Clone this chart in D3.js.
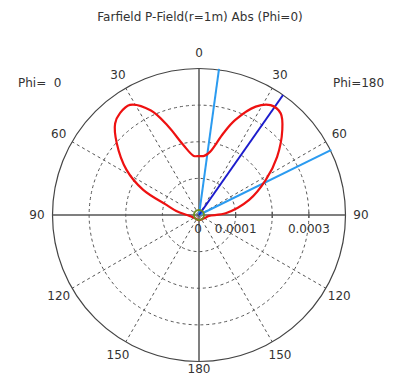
<!DOCTYPE html>
<html>
<head>
<meta charset="utf-8">
<script src="https://cdn.jsdelivr.net/npm/d3@7"></script>
<style>
  body { margin: 0; background: #fff; }
  text { font-family: "DejaVu Sans", sans-serif; fill: #333; }
</style>
</head>
<body>
<div id="chart"></div>
<script>
// theta in degrees measured from the top, values in field units
var thetaPhi0 = [0, 5, 12.6, 19.4, 24.7, 32.1, 37.8, 42.5, 48.9, 58.1, 65.8, 72.8, 80, 90, 100, 130, 180];
var valuePhi0 = [1.61e-4, 1.62e-4, 1.96e-4, 2.59e-4, 3.14e-4, 3.55e-4, 3.52e-4, 3.39e-4, 2.98e-4, 2.33e-4, 1.67e-4, 0.93e-4, 0.63e-4, 0.33e-4, 0.22e-4, 0.14e-4, 0.14e-4];
var thetaPhi180 = [0, 5, 9.9, 16.6, 20.8, 27.6, 33.1, 38.8, 44.4, 53.3, 62.3, 73.3, 86.4, 95, 110, 140, 180];
var valuePhi180 = [1.61e-4, 1.62e-4, 1.75e-4, 2.33e-4, 2.77e-4, 3.34e-4, 3.58e-4, 3.56e-4, 3.25e-4, 2.66e-4, 2.06e-4, 1.43e-4, 0.73e-4, 0.27e-4, 0.2e-4, 0.14e-4, 0.14e-4];
var mainLobe = [35];
var beamEdges = [7.8, 63.8];
var ringValues = [1e-4, 2e-4, 3e-4];
var radialLabels = [[0, "0"], [1e-4, "0.0001"], [3e-4, "0.0003"]];
var angleTicks = [0, 30, 60, 90, 120, 150, 180];
var gridAngles = [30, 60, 120, 150];
var maxValue = 4e-4;

var width = 396, height = 378;
var cx = 199, cy = 215, radius = 146.5;

var svg = d3.select("#chart").append("svg")
    .attr("width", width)
    .attr("height", height);

var r = d3.scaleLinear().domain([0, maxValue]).range([0, radius]);
var toRad = function (deg) { return deg * Math.PI / 180; };

var g = svg.append("g").attr("transform", "translate(" + cx + "," + cy + ")");

// dashed rings
g.selectAll(".ring").data(ringValues).enter().append("circle")
    .attr("r", function (d) { return r(d); })
    .attr("fill", "none")
    .attr("stroke", "#555")
    .attr("stroke-width", 1)
    .attr("stroke-dasharray", "3,3");

// dashed radial lines
var spokes = [];
gridAngles.forEach(function (a) { spokes.push(a); spokes.push(-a); });
g.selectAll(".spoke").data(spokes).enter().append("line")
    .attr("x1", 0).attr("y1", 0)
    .attr("x2", function (d) { return r(maxValue) * Math.sin(toRad(d)); })
    .attr("y2", function (d) { return -r(maxValue) * Math.cos(toRad(d)); })
    .attr("stroke", "#555")
    .attr("stroke-width", 1)
    .attr("stroke-dasharray", "3,3");

// outer circle
g.append("circle")
    .attr("r", r(maxValue))
    .attr("fill", "none")
    .attr("stroke", "#444")
    .attr("stroke-width", 1.2);

// axes
g.append("line").attr("x1", -r(maxValue)).attr("x2", r(maxValue)).attr("y1", 0).attr("y2", 0)
    .attr("stroke", "#555").attr("stroke-width", 1.5);
g.append("line").attr("y1", -r(maxValue)).attr("y2", r(maxValue)).attr("x1", 0).attr("x2", 0)
    .attr("stroke", "#555").attr("stroke-width", 1.5);

// ticks on the radial axis
g.selectAll(".tick").data(ringValues).enter().append("line")
    .attr("x1", function (d) { return r(d); })
    .attr("x2", function (d) { return r(d); })
    .attr("y1", -3).attr("y2", 3)
    .attr("stroke", "#555").attr("stroke-width", 1.2);

// radial labels
g.selectAll(".rlabel").data(radialLabels).enter().append("text")
    .attr("x", function (d) { return r(d[0]) - (d[0] === 0 ? 1 : 0); })
    .attr("y", 18)
    .attr("text-anchor", "middle")
    .style("font-size", "12px")
    .text(function (d) { return d[1]; });

// angle labels
var angleLabelR = 162;
var angleLabelData = [];
angleTicks.forEach(function (a) {
    angleLabelData.push(a);
    if (a > 0 && a < 180) angleLabelData.push(-a);
});
g.selectAll(".alabel").data(angleLabelData).enter().append("text")
    .attr("x", function (d) { return angleLabelR * Math.sin(toRad(d)); })
    .attr("y", function (d) { return d === 180 ? 154 : -angleLabelR * Math.cos(toRad(d)); })
    .attr("dy", "0.35em")
    .attr("text-anchor", "middle")
    .style("font-size", "12px")
    .text(function (d) { return Math.abs(d); });

// pattern curve: Phi=0 on the left (negative angle), Phi=180 on the right
var pts = [];
for (var i = thetaPhi0.length - 1; i >= 1; i--) pts.push([-thetaPhi0[i], valuePhi0[i]]);
for (var j = 0; j < thetaPhi180.length - 1; j++) pts.push([thetaPhi180[j], valuePhi180[j]]);

var line = d3.lineRadial()
    .angle(function (d) { return toRad(d[0]); })
    .radius(function (d) { return r(d[1]); })
    .curve(d3.curveCatmullRomClosed.alpha(0.5));

// beam edges
g.selectAll(".edge").data(beamEdges).enter().append("line")
    .attr("x1", 0).attr("y1", 0)
    .attr("x2", function (d) { return (r(maxValue) + 1) * Math.sin(toRad(d)); })
    .attr("y2", function (d) { return -(r(maxValue) + 1) * Math.cos(toRad(d)); })
    .attr("stroke", "#2b9bf0").attr("stroke-width", 2);

// main lobe direction
g.selectAll(".main").data(mainLobe).enter().append("line")
    .attr("x1", 0).attr("y1", 0)
    .attr("x2", function (d) { return r(maxValue) * Math.sin(toRad(d)); })
    .attr("y2", function (d) { return -r(maxValue) * Math.cos(toRad(d)); })
    .attr("stroke", "#1c1ccc").attr("stroke-width", 2);

g.append("path")
    .attr("d", line(pts))
    .attr("fill", "none")
    .attr("stroke", "#ee1111")
    .attr("stroke-width", 2.2);

// origin marker
g.append("circle")
    .attr("r", 5)
    .attr("fill", "none")
    .attr("stroke", "#6b8e23")
    .attr("stroke-width", 2);

// title and side labels
svg.append("text")
    .attr("x", 200).attr("y", 21)
    .attr("text-anchor", "middle")
    .style("font-size", "12px")
    .text("Farfield P-Field(r=1m) Abs (Phi=0)");

svg.append("text")
    .attr("x", 18).attr("y", 87)
    .style("font-size", "12px")
    .style("white-space", "pre")
    .text("Phi=  0");

svg.append("text")
    .attr("x", 333).attr("y", 87)
    .style("font-size", "12px")
    .text("Phi=180");
</script>
</body>
</html>
